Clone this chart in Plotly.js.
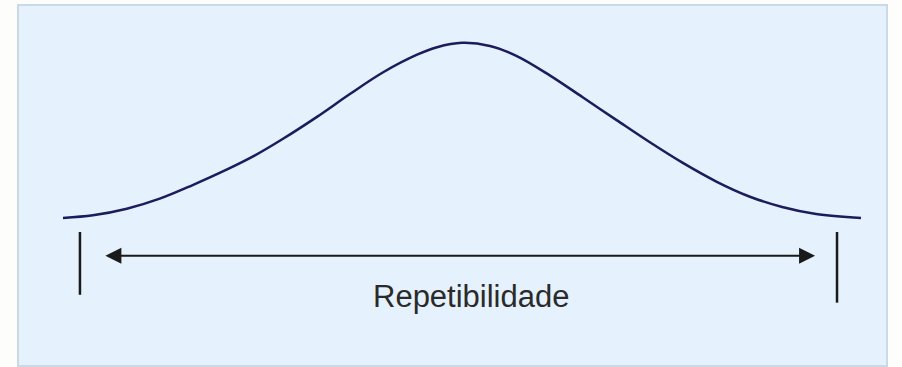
<!DOCTYPE html>
<html>
<head>
<meta charset="utf-8">
<script src="https://cdn.plot.ly/plotly-3.0.1.min.js"></script>
<style>html,body{margin:0;padding:0;background:#fdfdfb;}#chart{width:902px;height:367px;}</style>
</head>
<body>
<div id="chart"></div>
<script>
// Curve (x in spread units, y as relative frequency)
const curveX = [-4.0, -3.7, -3.36, -3.03, -2.70, -2.36, -2.08, -1.79, -1.45, -1.12, -0.79, -0.45, -0.25, 0.0, 0.28, 0.55, 0.88, 1.21, 1.55, 1.88, 2.21, 2.55, 2.88, 3.21, 3.55, 4.0];
const curveY = [0.001, 0.007, 0.022, 0.045, 0.076, 0.111, 0.143, 0.182, 0.232, 0.284, 0.333, 0.373, 0.390, 0.400, 0.393, 0.370, 0.326, 0.276, 0.224, 0.174, 0.127, 0.084, 0.050, 0.026, 0.010, 0.001];
// Limits of repeatability (vertical bars) and arrow span
const limitX = [-3.83, 3.76];
const limitTop = [-0.031, -0.031];
const limitBottom = [-0.174, -0.192];
const arrowX = [-3.59, 3.54];
const arrowY = -0.085;
const label = "Repetibilidade";
const labelX = 0.09;
const labelY = -0.177;

const traces = [
  {x: curveX, y: curveY, type: 'scatter', mode: 'lines',
   line: {color: '#1c1c5c', width: 2.5, shape: 'spline', smoothing: 1.0}, hoverinfo: 'skip'},
  {x: [limitX[0], limitX[0]], y: [limitTop[0], limitBottom[0]], type: 'scatter', mode: 'lines',
   line: {color: '#1a1a1a', width: 2.5}, hoverinfo: 'skip'},
  {x: [limitX[1], limitX[1]], y: [limitTop[1], limitBottom[1]], type: 'scatter', mode: 'lines',
   line: {color: '#1a1a1a', width: 2.5}, hoverinfo: 'skip'}
];

const layout = {
  width: 902, height: 367,
  margin: {l: 19, r: 16, t: 6, b: 2, pad: 0},
  paper_bgcolor: '#fdfdfb',
  plot_bgcolor: '#e5f1fc',
  showlegend: false,
  xaxis: {range: [-4.441, 4.251], showgrid: false, zeroline: false, showticklabels: false, ticks: '',
          showline: true, mirror: true, linecolor: '#cbd9e6', linewidth: 2, fixedrange: true},
  yaxis: {range: [-0.334, 0.484], showgrid: false, zeroline: false, showticklabels: false, ticks: '',
          showline: true, mirror: true, linecolor: '#cbd9e6', linewidth: 2, fixedrange: true},
  annotations: [
    {x: arrowX[1], y: arrowY, ax: arrowX[0], ay: arrowY, xref: 'x', yref: 'y', axref: 'x', ayref: 'y',
     text: '', showarrow: true, arrowhead: 2, startarrowhead: 2, arrowside: 'end+start',
     arrowsize: 1.6, startarrowsize: 1.6, arrowwidth: 2, arrowcolor: '#1a1a1a', standoff: 0, startstandoff: 0},
    {x: labelX, y: labelY, xref: 'x', yref: 'y', text: label, showarrow: false,
     font: {family: 'Liberation Sans, Arial, sans-serif', size: 31, color: '#2a2a2a'}}
  ]
};

Plotly.newPlot('chart', traces, layout, {displayModeBar: false, staticPlot: true});
</script>
</body>
</html>
